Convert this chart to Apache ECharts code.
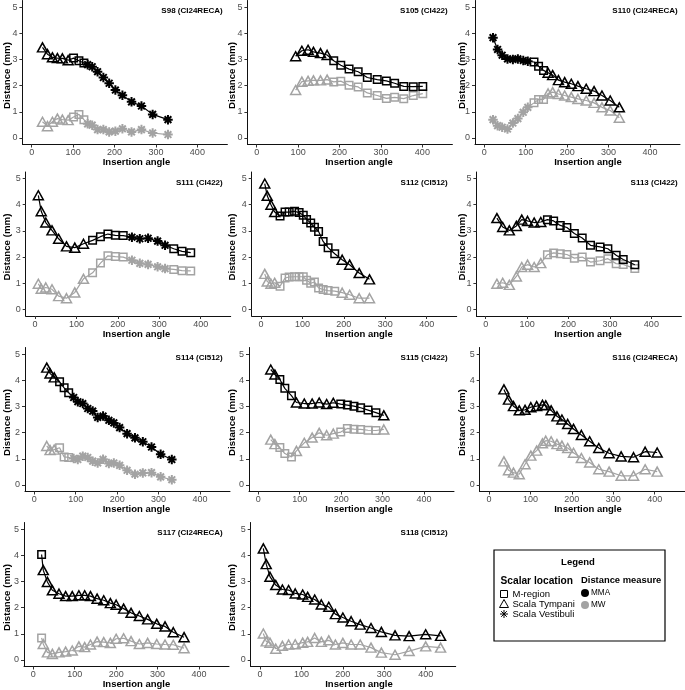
<!DOCTYPE html>
<html><head><meta charset="utf-8">
<script src="https://cdn.jsdelivr.net/npm/echarts@6/dist/echarts.min.js"></script>
<style>html,body{margin:0;padding:0;background:#fff}#c{width:685px;height:690px}</style>
</head><body><div id="c"></div><script>
// ---------- DATA ----------
const panelNames = ['S98 (CI24RECA)','S105 (CI422)','S110 (CI24RECA)','S111 (CI422)','S112 (CI512)','S113 (CI422)','S114 (CI512)','S115 (CI422)','S116 (CI24RECA)','S117 (CI24RECA)','S118 (CI512)'];
const xTicks = [0,100,200,300,400];
const yTicks = [0,1,2,3,4,5];
// location codes: M = M-region, T = Scala Tympani, V = Scala Vestibuli
const s98Angle = [26,38,50,62,74,88,101,114,126,135,146,159,173,187,202,219,241,265,292,329];
const s98MMA = [3.46,3.2,3.08,3.05,3.04,2.97,3.05,2.95,2.86,2.8,2.72,2.53,2.31,2.09,1.83,1.63,1.38,1.22,0.9,0.7];
const s98MW = [0.62,0.45,0.62,0.74,0.7,0.68,0.8,0.9,0.7,0.54,0.49,0.32,0.32,0.23,0.26,0.35,0.23,0.32,0.19,0.13];
const s98Loc = 'TTTTTTMMMVVVVVVVVVVV';

const s105Angle = [94,109,124,137,154,170,186,203,223,245,267,291,313,333,355,378,401];
const s105MMA = [3.12,3.33,3.37,3.29,3.24,3.17,2.95,2.78,2.63,2.53,2.31,2.23,2.18,2.09,1.97,1.96,1.97];
const s105MW = [1.83,2.15,2.18,2.2,2.2,2.23,2.14,2.17,2.01,1.95,1.72,1.62,1.51,1.55,1.5,1.62,1.69];
const s105Loc = 'TTTTTTMMMMMMMMMMM';

const s110Angle = [21,32,43,56,69,81,94,105,120,131,143,154,165,179,194,210,226,246,265,284,304,326];
const s110MMA = [3.83,3.38,3.16,3.02,3.0,3.02,2.96,2.93,2.9,2.74,2.58,2.49,2.4,2.21,2.13,2.07,1.98,1.88,1.79,1.62,1.43,1.17];
const s110MW = [0.7,0.47,0.41,0.34,0.57,0.74,0.98,1.17,1.34,1.47,1.47,1.7,1.75,1.68,1.62,1.56,1.49,1.43,1.34,1.17,1.05,0.77];
const s110Loc = 'VVVVVVVVMMMTTTTTTTTTTT';

const s111Angle = [8,15,26,41,57,76,96,117,139,158,176,194,213,234,253,273,296,314,335,355,376];
const s111MMA = [4.36,3.75,3.32,3.02,2.7,2.41,2.36,2.51,2.64,2.78,2.88,2.83,2.82,2.76,2.7,2.72,2.61,2.45,2.32,2.22,2.17];
const s111MW = [0.98,0.79,0.84,0.77,0.51,0.43,0.65,1.17,1.4,1.77,2.05,2.02,2.0,1.88,1.76,1.72,1.63,1.56,1.53,1.48,1.47];
const s111Loc = 'TTTTTTTTMMMMMVVVVVMMM';

const s112Angle = [9,15,24,33,46,58,68,81,92,102,110,120,129,139,150,162,178,196,214,237,262];
const s112MMA = [4.81,4.34,4.0,3.72,3.57,3.72,3.72,3.75,3.7,3.6,3.44,3.3,3.14,2.98,2.6,2.36,2.13,1.9,1.71,1.39,1.15];
const s112MW = [1.36,1.07,0.98,1.02,0.89,1.2,1.24,1.25,1.25,1.25,1.12,1.0,1.05,0.82,0.76,0.72,0.7,0.64,0.56,0.43,0.43];
const s112Loc = 'TTTTMMMMMMMMMMMMMTTTT';

const s113Angle = [27,41,57,74,87,101,117,133,149,164,180,196,214,233,253,276,295,315,332,360];
const s113MMA = [3.49,3.15,3.02,3.19,3.43,3.38,3.32,3.34,3.43,3.38,3.21,3.13,2.9,2.73,2.45,2.39,2.32,2.07,1.91,1.71];
const s113MW = [0.98,1.02,0.94,1.26,1.62,1.71,1.62,1.77,2.09,2.16,2.13,2.1,1.96,2.0,1.81,1.86,1.94,1.75,1.72,1.56];
const s113Loc = 'TTTTTTTTMMMMMMMMMMMM';

const s114Angle = [30,38,48,61,72,83,95,105,117,129,141,153,166,180,192,206,224,243,262,283,305,332];
const s114MMA = [4.48,4.26,4.11,3.94,3.71,3.52,3.34,3.18,3.11,2.92,2.82,2.58,2.63,2.47,2.37,2.19,1.96,1.8,1.65,1.45,1.17,0.97];
const s114MW = [1.49,1.33,1.35,1.42,1.07,1.05,1.01,0.97,1.1,1.05,0.91,0.84,0.98,0.82,0.84,0.75,0.56,0.41,0.46,0.47,0.31,0.2];
const s114Loc = 'TTTMMMVVVVVVVVVVVVVVVV';

const s115Angle = [30,40,52,64,80,92,111,130,147,165,181,199,215,231,247,265,284,303];
const s115MMA = [4.41,4.22,4.03,3.69,3.41,3.15,3.11,3.11,3.15,3.09,3.14,3.09,3.05,3.01,2.95,2.86,2.76,2.66];
const s115MW = [1.73,1.56,1.43,1.2,1.07,1.3,1.61,1.81,1.99,1.9,1.96,2.02,2.16,2.13,2.12,2.09,2.08,2.12];
const s115Loc = 'TTMMMTTTTTTMMMMMMT';

const s116Angle = [36,47,59,73,87,101,115,129,137,150,164,176,190,204,223,243,265,290,319,349,377,406];
const s116MMA = [3.65,3.26,3.01,2.85,2.87,2.97,3.01,3.06,3.04,2.85,2.62,2.5,2.33,2.14,1.91,1.67,1.41,1.21,1.09,1.06,1.27,1.24];
const s116MW = [0.9,0.56,0.47,0.41,0.79,1.12,1.31,1.59,1.69,1.67,1.56,1.5,1.41,1.23,1.03,0.86,0.6,0.51,0.35,0.35,0.6,0.51];
const s116Loc = 'TTTTTTTTTTTTTTTTTTTTTT';

const s117Angle = [20,24,34,46,62,78,94,110,124,138,154,170,186,200,218,236,256,276,298,318,338,364];
const s117MMA = [4.03,3.43,2.98,2.66,2.53,2.44,2.44,2.47,2.47,2.44,2.34,2.28,2.17,2.11,1.96,1.8,1.68,1.55,1.38,1.28,1.06,0.87];
const s117MW = [0.84,0.61,0.29,0.23,0.29,0.32,0.36,0.52,0.49,0.59,0.7,0.68,0.65,0.81,0.83,0.72,0.61,0.65,0.61,0.59,0.58,0.45];
const s117Loc = 'MTTTTTTTTTTTTTTTTTTTTT';

const s118Angle = [8,15,24,38,54,69,85,103,115,132,148,166,182,200,220,242,268,293,326,360,400,436];
const s118MMA = [4.26,3.66,3.18,2.86,2.69,2.67,2.54,2.5,2.41,2.31,2.12,2.03,1.75,1.62,1.48,1.35,1.22,1.07,0.94,0.91,0.98,0.92];
const s118MW = [1.01,0.71,0.66,0.43,0.54,0.59,0.6,0.66,0.69,0.84,0.69,0.75,0.59,0.65,0.59,0.59,0.47,0.28,0.2,0.34,0.52,0.47];
const s118Loc = 'TTTTTTTTTTTTTTTTTTTTTT';

const legendLocations = ['M-region','Scala Tympani','Scala Vestibuli'];
const legendMeasures = ['MMA','MW'];

// ---------- LAYOUT / STYLE ----------
const panels = [
  {angle:s98Angle, mma:s98MMA, mw:s98MW, loc:s98Loc},
  {angle:s105Angle, mma:s105MMA, mw:s105MW, loc:s105Loc},
  {angle:s110Angle, mma:s110MMA, mw:s110MW, loc:s110Loc},
  {angle:s111Angle, mma:s111MMA, mw:s111MW, loc:s111Loc},
  {angle:s112Angle, mma:s112MMA, mw:s112MW, loc:s112Loc},
  {angle:s113Angle, mma:s113MMA, mw:s113MW, loc:s113Loc},
  {angle:s114Angle, mma:s114MMA, mw:s114MW, loc:s114Loc},
  {angle:s115Angle, mma:s115MMA, mw:s115MW, loc:s115Loc},
  {angle:s116Angle, mma:s116MMA, mw:s116MW, loc:s116Loc},
  {angle:s117Angle, mma:s117MMA, mw:s117MW, loc:s117Loc},
  {angle:s118Angle, mma:s118MMA, mw:s118MW, loc:s118Loc}
];
const panelLeft = [22.4,247.4,475,25.7,251.7,476.4,25,249,479.7,24,250.7];
const rowTop = [0.5,172,347.5,522.5];
const panelW = 205, panelH = 144;
const titleRight = [222.7,447.7,677.7];
const xNameCenter = [136.5,359,588];
const yNameX = [7.5,232.5,462];
const FONT = '"Liberation Sans", Arial, Helvetica, sans-serif';
const BLACK = '#000000', GREY = '#a3a3a3';
const AST = 'path://M0,-10L0,10M-10,0L10,0M-7.07,-7.07L7.07,7.07M-7.07,7.07L7.07,-7.07';
const SYM = {M:'rect', T:'triangle', V:AST};
const SYMSIZE = {M:[7.5,7.5], T:[10,9], V:[9.5,9.5]};

const grids = [], xAxes = [], yAxes = [], series = [], graphics = [];
panels.forEach((p, i) => {
  const row = Math.floor(i/3), col = i%3;
  const top = rowTop[row];
  grids.push({left:panelLeft[i], top:top, width:panelW, height:panelH});
  xAxes.push({gridIndex:i, type:'value', min:-22.5, max:472.5,
    axisLine:{show:true, onZero:false, lineStyle:{color:'#111', width:1}},
    axisTick:{show:true, length:3, customValues:xTicks, lineStyle:{color:'#333', width:1}},
    axisLabel:{customValues:xTicks, color:'#4d4d4d', fontSize:9, margin:4, fontFamily:FONT},
    splitLine:{show:false}});
  yAxes.push({gridIndex:i, type:'value', min:-0.25, max:5.25,
    axisLine:{show:true, onZero:false, lineStyle:{color:'#111', width:1}},
    axisTick:{show:true, length:3, customValues:yTicks, lineStyle:{color:'#333', width:1}},
    axisLabel:{customValues:yTicks, color:'#4d4d4d', fontSize:9, margin:5, fontFamily:FONT},
    splitLine:{show:false}});
  [['mw',GREY,2],['mma',BLACK,3]].forEach(([k,c,z]) => {
    series.push({type:'line', xAxisIndex:i, yAxisIndex:i, z:z, silent:true, animation:false,
      showAllSymbol:true, clip:false,
      itemStyle:{color:'none', borderColor:c, borderWidth:1.5},
      lineStyle:{color:c, width:1.2},
      emphasis:{disabled:true},
      data:p.angle.map((a,j)=>{
        const L = p.loc[j];
        const d = {value:[a, p[k][j]], symbol:SYM[L], symbolSize:SYMSIZE[L]};
        if (L==='V') d.itemStyle = {borderWidth:2};
        return d;
      })});
  });
  graphics.push({type:'text', x:titleRight[col], y:top+10.5, silent:true,
    style:{text:panelNames[i], align:'right', verticalAlign:'middle', font:'bold 8px '+FONT, fill:'#000'}});
  graphics.push({type:'text', x:xNameCenter[col], y:top+panelH+18, silent:true,
    style:{text:'Insertion angle', align:'center', verticalAlign:'middle', font:'bold 9.5px '+FONT, fill:'#000'}});
  graphics.push({type:'text', x:yNameX[col], y:top+panelH/2+3, rotation:Math.PI/2, silent:true,
    style:{text:'Distance (mm)', align:'center', verticalAlign:'middle', font:'bold 9.7px '+FONT, fill:'#000'}});
});

// Legend box
graphics.push({type:'rect', shape:{x:494, y:550, width:171, height:91}, silent:true,
  style:{fill:'#fff', stroke:'#000', lineWidth:1.2}});
graphics.push({type:'text', x:578, y:562, silent:true, style:{text:'Legend', align:'center', verticalAlign:'middle', font:'bold 9.5px '+FONT, fill:'#000'}});
graphics.push({type:'text', x:500.5, y:581, silent:true, style:{text:'Scalar location', align:'left', verticalAlign:'middle', font:'bold 10.2px '+FONT, fill:'#000'}});
graphics.push({type:'text', x:581, y:580, silent:true, style:{text:'Distance measure', align:'left', verticalAlign:'middle', font:'bold 9.4px '+FONT, fill:'#000'}});
const legY = [594,604,614];
graphics.push({type:'rect', shape:{x:500.5, y:590.5, width:7, height:7}, silent:true, style:{fill:'none', stroke:'#000', lineWidth:1}});
graphics.push({type:'polygon', shape:{points:[[504,599.5],[499.5,607.5],[508.5,607.5]]}, silent:true, style:{fill:'none', stroke:'#000', lineWidth:1}});
[[504,610,504,618],[500,614,508,614],[501.2,611.2,506.8,616.8],[501.2,616.8,506.8,611.2]].forEach(s=>{
  graphics.push({type:'line', shape:{x1:s[0], y1:s[1], x2:s[2], y2:s[3]}, silent:true, style:{stroke:'#000', lineWidth:1}});
});
legendLocations.forEach((t,k)=>{
  graphics.push({type:'text', x:512.5, y:legY[k], silent:true, style:{text:t, align:'left', verticalAlign:'middle', font:'9.5px '+FONT, fill:'#000'}});
});
const measColors = [BLACK, GREY];
const measY = [593,605];
legendMeasures.forEach((t,k)=>{
  graphics.push({type:'circle', shape:{cx:585, cy:measY[k], r:4}, silent:true, style:{fill:measColors[k]}});
  graphics.push({type:'text', x:591, y:measY[k], silent:true, style:{text:t, align:'left', verticalAlign:'middle', font:'8.2px '+FONT, fill:'#000'}});
});

const chart = echarts.init(document.getElementById('c'), null, {renderer:'canvas'});
chart.setOption({animation:false, backgroundColor:'#fff', grid:grids, xAxis:xAxes, yAxis:yAxes, series:series, graphic:graphics});
</script></body></html>
